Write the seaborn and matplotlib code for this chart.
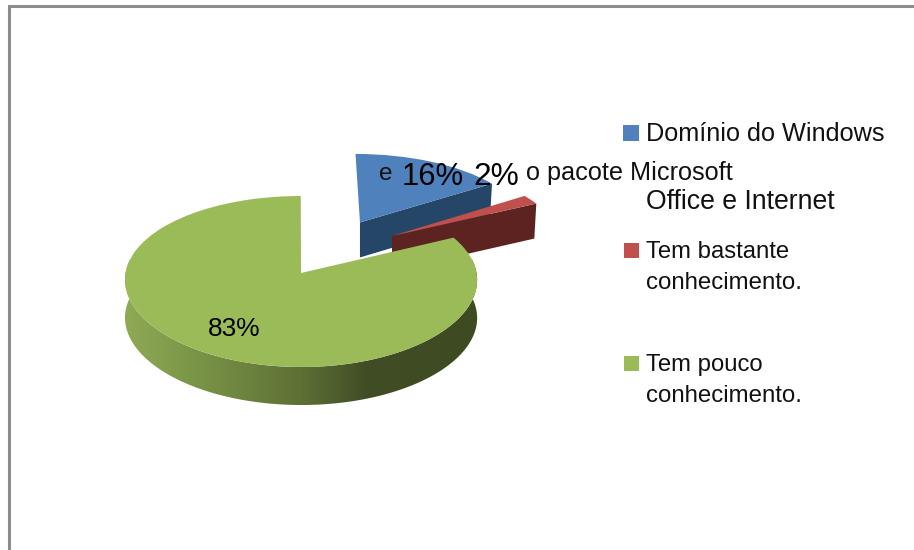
import numpy as np
import matplotlib
matplotlib.use("Agg")
import matplotlib.pyplot as plt
import seaborn as sns
from matplotlib.colors import LinearSegmentedColormap
from matplotlib.patches import Polygon, Rectangle
from matplotlib.transforms import Transform

# Survey results
categories = ["Domínio do Windows e o pacote Microsoft Office e Internet",
              "Tem bastante conhecimento.",
              "Tem pouco conhecimento."]
shares = [16, 2, 83]
share_labels = ["16%", "2%", "83%"]

top_colors = sns.color_palette(["#4f81bd", "#c0504d", "#9bbb59"])
cut_colors = ["#264668", "#5c2320"]

# Tilted-disc projection, from disc units to pixels
CX, CY, RX, RY = 297.0, 273.0, 175.5, 84.66
KX, KY = 0.08, 0.0995
SLICE_DEPTH, WALL_DEPTH = 35.0, 38.0
PULLED_OUT = [(0.377, 0.635), (0.561, 0.457), (0.023, 0.0)]


class TiltedDisc(Transform):
    input_dims = 2
    output_dims = 2
    is_separable = False

    def transform_non_affine(self, values):
        values = np.asarray(values, dtype=float)
        return np.column_stack([CX + RX * values[:, 0] / (1 + KX * values[:, 1]),
                                CY - RY * values[:, 1] / (1 + KY * values[:, 1])])


tilt = TiltedDisc()


def rim(center, angles):
    t = np.radians(angles)
    return tilt.transform(np.column_stack([center[0] + np.cos(t),
                                           center[1] + np.sin(t)]))


sns.set_theme(style="white")
plt.rcParams["font.family"] = ["Liberation Sans", "DejaVu Sans"]

fig = plt.figure(figsize=(9.14, 5.5), dpi=100, facecolor="white")
ax = fig.add_axes([0, 0, 1, 1])

wedges, _ = ax.pie(shares, startangle=90, counterclock=False,
                   colors=top_colors, wedgeprops={"linewidth": 0})
ax.set_aspect("auto")
ax.axis("off")

for order, (wedge, center) in enumerate(zip(wedges, PULLED_OUT)):
    wedge.set_center(center)
    wedge.set_transform(tilt + ax.transData)
    wedge.set_zorder(2 * order + 2)

# Cut faces of the two pulled-out slices
for order, (wedge, center, color) in enumerate(zip(wedges[:2], PULLED_OUT[:2], cut_colors)):
    apex = tilt.transform(np.array([center]))[0]
    edge = rim(center, [wedge.theta1])[0]
    face = [apex, edge, edge + [-2, SLICE_DEPTH], apex + [0, SLICE_DEPTH]]
    ax.add_patch(Polygon(face, closed=True, facecolor=color, edgecolor="none",
                         zorder=2 * order + 1))

# Outer wall of the large slice, shaded from left to right
big = wedges[2]
sweep = np.linspace(big.theta1, big.theta2, 400)
sweep = sweep[np.sin(np.radians(sweep)) < 0.2]
top_edge = rim(PULLED_OUT[2], sweep)
wall = Polygon(np.vstack([top_edge, (top_edge + [0, WALL_DEPTH])[::-1]]), closed=True,
               transform=ax.transData, facecolor="none", edgecolor="none")
ax.add_patch(wall)
shade = LinearSegmentedColormap.from_list(
    "wall", [(0.0, "#8fa955"), (0.15, "#7f9a4a"), (0.5, "#5d7035"),
             (0.68, "#414e25"), (1.0, "#3e4a22")])
left, right = top_edge[:, 0].min(), top_edge[:, 0].max()
image = ax.imshow(np.linspace(0, 1, 256)[None, :], cmap=shade, aspect="auto",
                  extent=(left, right, 420, 260), zorder=4.5)
image.set_clip_path(wall)
ax.set_xlim(0, 914)
ax.set_ylim(550, 0)

# Slide border
ax.plot([9, 9, 914], [550, 6, 6], color="#8c8c8c", lw=2.2, zorder=1,
        solid_joinstyle="miter", clip_on=False)

# Share labels
ax.text(402, 185, share_labels[0], fontsize=22.3, color="black", zorder=9)
ax.text(473, 185, share_labels[1], fontsize=22.8, color="black", zorder=9)
ax.text(208, 336, share_labels[2], fontsize=18.9, color="black", zorder=9)

# Legend
for y0, size, color in zip([125, 243, 356], [16, 15, 15], top_colors):
    ax.add_patch(Rectangle((639 - size, y0), size, size, facecolor=color,
                           edgecolor="none", zorder=9))
legend_rows = [(646, 141, "Domínio do Windows", 18.2),
               (379, 180, "e", 17.5),
               (526, 180, "o pacote Microsoft", 18.2),
               (646, 209, "Office e Internet", 19.2),
               (646, 258, "Tem bastante", 17.2),
               (646, 289, "conhecimento.", 17.3),
               (646, 371, "Tem pouco", 17.2),
               (646, 402, "conhecimento.", 17.3)]
for x, y, text, size in legend_rows:
    ax.text(x, y, text, fontsize=size, color="#111111", zorder=8)

fig.savefig("out.png", dpi=100)
